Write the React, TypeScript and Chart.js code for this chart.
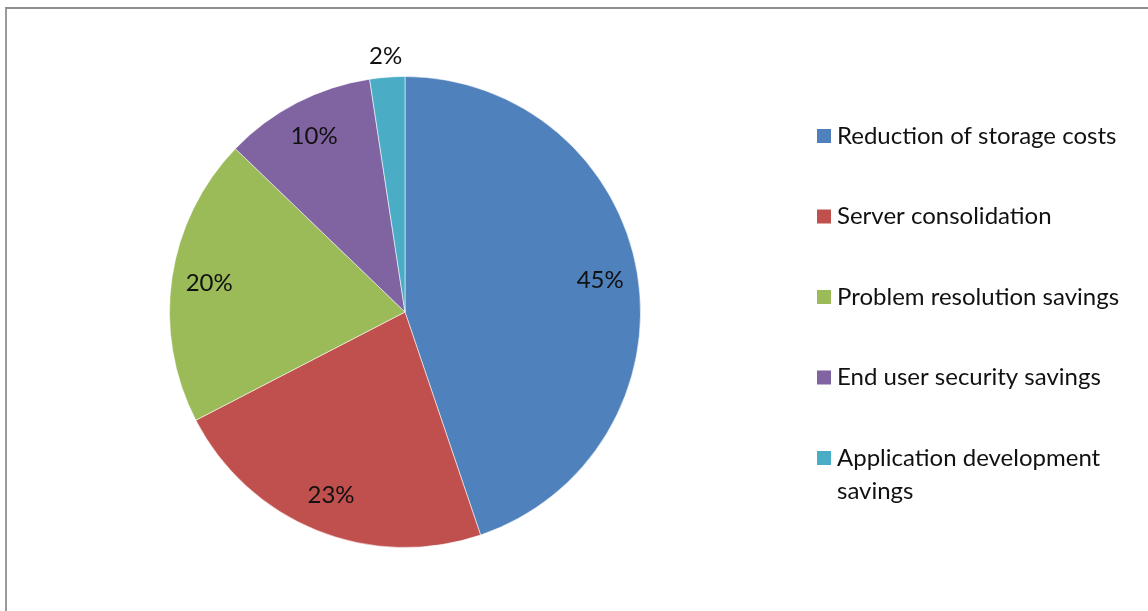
import React, { useEffect, useRef } from "react";
import { Chart, registerables } from "chart.js";

Chart.register(...registerables);

const categories = [
  "Reduction of storage costs",
  "Server consolidation",
  "Problem resolution savings",
  "End user security savings",
  "Application development savings",
];
const shares = [44.8, 22.6, 19.8, 10.4, 2.4];
const sliceColors = ["#4F81BD", "#C0504D", "#9BBB59", "#8064A2", "#4BACC6"];

const FONT = "Lato, 'Open Sans', sans-serif";

const pctLabelPlugin = {
  id: "pctLabels",
  afterDatasetsDraw(chart: any) {
    const ctx = chart.ctx;
    const meta = chart.getDatasetMeta(0);
    const data = chart.data.datasets[0].data as number[];
    const total = data.reduce((a, b) => a + b, 0);
    ctx.save();
    ctx.font = `24px ${FONT}`;
    ctx.fillStyle = "#111";
    ctx.textAlign = "center";
    ctx.textBaseline = "middle";
    meta.data.forEach((arc: any, i: number) => {
      const { x, y, startAngle, endAngle, outerRadius } = arc.getProps(
        ["x", "y", "startAngle", "endAngle", "outerRadius"],
        true
      );
      const mid = (startAngle + endAngle) / 2;
      const pct = (data[i] / total) * 100;
      const r = pct < 5 ? outerRadius * 1.09 : outerRadius * 0.84;
      ctx.fillText(`${Math.round(pct)}%`, x + Math.cos(mid) * r, y + Math.sin(mid) * r);
    });
    ctx.restore();
  },
};

const legendPlugin = {
  id: "sideLegend",
  afterDraw(chart: any) {
    const ctx = chart.ctx;
    const lbls = chart.data.labels as string[];
    const cols = chart.data.datasets[0].backgroundColor as string[];
    const boxX = 817;
    const textX = 837;
    const firstY = 136;
    const step = 80.5;
    const lineH = 33;
    const maxW = 300;
    ctx.save();
    ctx.font = `24px ${FONT}`;
    ctx.textBaseline = "middle";
    ctx.textAlign = "left";
    lbls.forEach((label, i) => {
      const cy = firstY + i * step;
      ctx.fillStyle = cols[i];
      ctx.fillRect(boxX, cy - 7, 14, 14);
      const words = label.split(" ");
      const lines: string[] = [];
      let cur = "";
      words.forEach((w) => {
        const t = cur ? cur + " " + w : w;
        if (ctx.measureText(t).width > maxW && cur) {
          lines.push(cur);
          cur = w;
        } else cur = t;
      });
      if (cur) lines.push(cur);
      ctx.fillStyle = "#111";
      lines.forEach((ln, j) => ctx.fillText(ln, textX, cy + j * lineH));
    });
    ctx.restore();
  },
};

export default function App() {
  const ref = useRef<HTMLCanvasElement | null>(null);
  useEffect(() => {
    if (!ref.current) return;
    const chart = new Chart(ref.current, {
      type: "pie",
      data: {
        labels: categories,
        datasets: [
          {
            data: shares,
            backgroundColor: sliceColors,
            borderColor: "rgba(255,255,255,0.55)",
            borderWidth: 1,
          },
        ],
      },
      options: {
        responsive: false,
        animation: false,
        layout: { padding: { top: 76, bottom: 63, left: 169, right: 507 } },
        plugins: {
          legend: { display: false },
          tooltip: { enabled: false },
        },
      },
      plugins: [pctLabelPlugin, legendPlugin],
    });
    return () => chart.destroy();
  }, []);
  return (
    <div style={{ position: "fixed", left: 0, top: 0, width: 1148, height: 611, background: "#fff" }}>
      <div
        style={{
          position: "absolute",
          left: 5,
          top: 7,
          right: 0,
          bottom: 0,
          borderTop: "2px solid #8e8e8e",
          borderLeft: "2px solid #9a9a9a",
        }}
      />
      <canvas
        ref={ref}
        width={1148}
        height={611}
        style={{ position: "absolute", left: 0, top: 0, width: 1148, height: 611 }}
      />
    </div>
  );
}
